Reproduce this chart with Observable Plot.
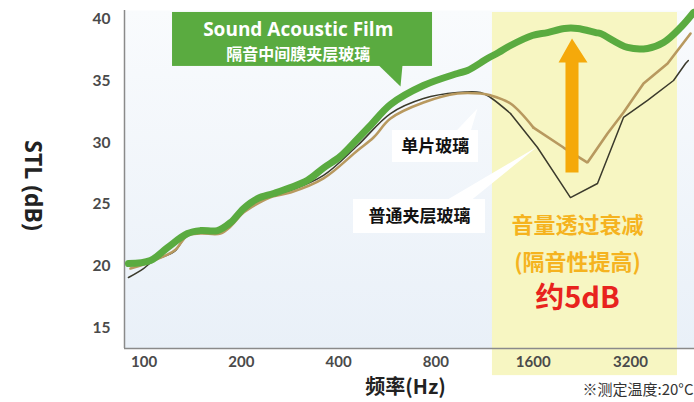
<!DOCTYPE html>
<html>
<head>
<meta charset="utf-8">
<script src="https://cdn.jsdelivr.net/npm/d3@7"></script>
<script src="https://cdn.jsdelivr.net/npm/@observablehq/plot@0.6"></script>
<style>
  html, body { margin: 0; padding: 0; background: #ffffff; }
  #chart svg { display: block; }
</style>
</head>
<body>
<div id="chart"></div>
<script>
// ---- data ----
const filmFreq   = [89.5, 104.7, 118.2, 136.3, 149.6, 168.8, 185.2, 203.1, 224.4, 251.5, 284, 320.5, 359.2, 405.4, 457.6, 502, 579, 732, 933, 1002, 1155, 1250, 1361, 1590, 1772, 2000, 2194, 2500, 2585, 3133, 3614, 4050, 4572, 5016];
const filmSTL    = [20.19, 20.45, 21.49, 22.63, 22.87, 22.87, 23.52, 24.66, 25.47, 25.88, 26.36, 26.95, 27.95, 28.9, 30.3, 31.4, 33.1, 34.64, 35.62, 35.86, 36.83, 37.32, 37.89, 38.7, 38.94, 39.27, 39.27, 38.94, 38.86, 37.73, 37.65, 38.13, 39.35, 40.57];

const singleFreq = [90.8, 99.6, 107, 124.2, 136.3, 149.6, 172.4, 185.2, 203.1, 224.4, 249.7, 284, 359.2, 457.6, 512.9, 578.9, 732.3, 933.1, 1099, 1180, 1361, 1603, 1986, 2356, 2717, 3045, 3512, 4169, 4910];
const singleSTL  = [19.79, 20.11, 20.44, 21.25, 22.47, 22.63, 22.63, 23.2, 24.33, 25.06, 25.63, 25.96, 27.1, 29.37, 30.42, 31.96, 33.26, 33.99, 33.99, 33.85, 33.18, 31.23, 29.61, 28.39, 30.75, 32.45, 34.8, 36.43, 38.86];

const laminFreq  = [89.5, 99.6, 107, 124.2, 136.3, 149.6, 172.4, 185.2, 203.1, 224.4, 249.7, 284, 359.2, 457.6, 578.9, 732.3, 933.1, 1099, 1180, 1361, 1650, 2087, 2530, 3045, 3614, 4350, 4738, 4834];
const laminSTL   = [19.06, 19.79, 20.44, 21.17, 22.55, 22.79, 22.79, 23.36, 24.5, 25.23, 25.71, 26.12, 27.34, 29.77, 32.37, 33.59, 34.07, 34.07, 33.67, 32.37, 29.61, 25.55, 26.69, 32.05, 33.43, 35.05, 36.43, 36.67];

const xTicks = [100, 200, 400, 800, 1600, 3200];
const yTicks = [15, 20, 25, 30, 35, 40];

const seriesNames = ["Sound Acoustic Film", "单片玻璃", "普通夹层玻璃"];
const filmSubtitle = "隔音中间膜夹层玻璃";
const effectLines = ["音量透过衰减", "(隔音性提高)"];
const effectValue = "约5dB";
const xTitle = "频率(Hz)";
const yTitle = "STL (dB)";
const caption = "※测定温度:20°C";

const toRows = (fs, vs) => fs.map((f, i) => ({f, v: vs[i]}));
const film = toRows(filmFreq, filmSTL);
const single = toRows(singleFreq, singleSTL);
const lamin = toRows(laminFreq, laminSTL);

// annotation geometry (data space)
const xMin = 87, xMax = 5050, yMin = 13.3, yMax = 40.73;
const greenBox  = [{x1: 122.5, x2: 781, y1: 36.19, y2: 40.57}];
const greenTail = [{f: 531, v: 36.3}, {f: 630.6, v: 36.3}, {f: 621.7, v: 34.56}];
const singleBox = [{x1: 587, x2: 1084, y1: 28.39, y2: 30.99}];
const singleTail= [{f: 920, v: 30.9}, {f: 1024, v: 30.9}, {f: 1076, v: 32.78}];
const laminBox  = [{x1: 444.7, x2: 1139, y1: 22.63, y2: 25.39}];
const laminTail = [{f: 857, v: 25.3}, {f: 1024, v: 25.3}, {f: 1650, v: 29.69}];
const highlight = [{x1: 1197, x2: 4473, y1: 11.1, y2: 40.57}];
const arrowPoly = [
  {f: 2014, v: 27.58}, {f: 2014, v: 36.51}, {f: 1917, v: 36.51},
  {f: 2110, v: 38.46}, {f: 2356, v: 36.51}, {f: 2210, v: 36.51},
  {f: 2210, v: 27.58}
];

const numFont = "Lato, 'Open Sans', sans-serif";
const cjk = "'Noto Sans CJK SC', 'Noto Sans', sans-serif";

const plot = Plot.plot({
  width: 694,
  height: 402,
  marginLeft: 124,
  marginRight: 0,
  marginTop: 10,
  marginBottom: 54,
  x: {type: "log", domain: [xMin, xMax], axis: null},
  y: {domain: [yMin, yMax], axis: null},
  style: {background: "transparent", overflow: "visible"},
  marks: [
    Plot.frame({fill: "url(#bggrad)", stroke: "none"}),
    Plot.rect(highlight, {x1: "x1", x2: "x2", y1: "y1", y2: "y2", fill: "#f7f6c2"}),
    Plot.ruleX([xMin], {stroke: "#8a8a8a", strokeWidth: 1.5}),
    Plot.ruleY([yMin], {stroke: "#8a8a8a", strokeWidth: 1.5}),
    // tick labels
    Plot.text(xTicks, {x: d => d, y: yMin, dy: 14, text: d => String(d),
      fontSize: 15, fontWeight: "bold", fill: "#4a4a4a", fontFamily: numFont}),
    Plot.text(yTicks, {x: xMin, y: d => d, dx: -14, textAnchor: "end", text: d => String(d),
      fontSize: 15.5, fontWeight: "bold", fill: "#4a4a4a", fontFamily: numFont}),

    // callouts
    Plot.rect(greenBox, {x1: "x1", x2: "x2", y1: "y1", y2: "y2", fill: "#5aab40", ariaLabel: "callout"}),
    Plot.line(greenTail, {x: "f", y: "v", fill: "#5aab40", stroke: "none", curve: "linear-closed"}),
    Plot.rect(singleBox, {x1: "x1", x2: "x2", y1: "y1", y2: "y2", fill: "#ffffff", ariaLabel: "callout"}),
    Plot.line(singleTail, {x: "f", y: "v", fill: "#ffffff", stroke: "none", curve: "linear-closed"}),
    Plot.rect(laminBox, {x1: "x1", x2: "x2", y1: "y1", y2: "y2", fill: "#ffffff", ariaLabel: "callout"}),
    Plot.line(laminTail, {x: "f", y: "v", fill: "#ffffff", stroke: "none", curve: "linear-closed"}),

    // series: smooth at low frequency, angular through the coincidence dip
    Plot.line(lamin.filter(d => d.f <= 1361), {x: "f", y: "v", stroke: "#3b3a2c", strokeWidth: 1.5, curve: "catmull-rom"}),
    Plot.line(lamin.filter(d => d.f >= 1361), {x: "f", y: "v", stroke: "#3b3a2c", strokeWidth: 1.5, curve: "linear"}),
    Plot.line(single.filter(d => d.f <= 1603), {x: "f", y: "v", stroke: "#b8995f", strokeWidth: 2.6, curve: "catmull-rom"}),
    Plot.line(single.filter(d => d.f >= 1603), {x: "f", y: "v", stroke: "#b8995f", strokeWidth: 2.6, curve: "linear", strokeLinejoin: "miter"}),
    Plot.line(film, {x: "f", y: "v", stroke: "#5aab40", strokeWidth: 7, curve: "catmull-rom", strokeLinecap: "round"}),

    // arrow
    Plot.line(arrowPoly, {x: "f", y: "v", fill: "#f5a90a", stroke: "none", curve: "linear-closed"}),

    // callout texts
    Plot.text([seriesNames[0]], {x: 300, y: 39.19, text: d => d, fill: "white", fontSize: 19, fontWeight: "bold", fontFamily: "'Open Sans', sans-serif"}),
    Plot.text([filmSubtitle], {x: 300, y: 37.12, text: d => d, fill: "white", fontSize: 16, fontWeight: "bold", fontFamily: cjk}),
    Plot.text([seriesNames[1]], {x: 797, y: 29.69, text: d => d, fill: "#111", fontSize: 17, fontWeight: "bold", fontFamily: cjk}),
    Plot.text([seriesNames[2]], {x: 712, y: 24.01, text: d => d, fill: "#111", fontSize: 17, fontWeight: "bold", fontFamily: cjk}),

    // effect texts
    Plot.text([effectLines[0]], {x: 2194, y: 23.28, text: d => d, fill: "#f5b31f", fontSize: 22, fontWeight: "bold", fontFamily: cjk}),
    Plot.text([effectLines[1]], {x: 2194, y: 20.28, text: d => d, fill: "#f5b31f", fontSize: 22, fontWeight: "bold", fontFamily: cjk}),
    Plot.text([effectValue], {x: 2194, y: 17.35, text: d => d, fill: "#e8231d", fontSize: 29, fontWeight: "bold", fontFamily: cjk}),

    // titles
    Plot.text([xTitle], {frameAnchor: "bottom", lineAnchor: "middle", dx: -4, dy: 39, text: d => d, fill: "#222", fontSize: 20, fontWeight: "bold", fontFamily: cjk}),
    Plot.text([yTitle], {frameAnchor: "left", textAnchor: "middle", dx: -92, dy: 6, rotate: 90, text: d => d, fill: "#222", fontSize: 23, fontWeight: "bold", fontFamily: "'Open Sans', sans-serif"}),
    Plot.text([caption], {frameAnchor: "bottom-right", lineAnchor: "middle", dx: -1, dy: 42, textAnchor: "end", text: d => d, fill: "#333", fontSize: 15, fontFamily: cjk})
  ]
});

// gradient + shadow defs
const svg = d3.select(plot);
const defs = svg.insert("defs", ":first-child");
const g = defs.append("linearGradient").attr("id", "bggrad").attr("x1", 0).attr("y1", 0).attr("x2", 0).attr("y2", 1);
g.append("stop").attr("offset", "0%").attr("stop-color", "#f9fbfd");
g.append("stop").attr("offset", "100%").attr("stop-color", "#e9f0f8");
const f = defs.append("filter").attr("id", "shadow").attr("x", "-20%").attr("y", "-30%").attr("width", "150%").attr("height", "170%");
f.append("feDropShadow").attr("dx", 2).attr("dy", 3).attr("stdDeviation", 2.5).attr("flood-color", "#000").attr("flood-opacity", 0.3);
svg.selectAll('[aria-label="callout"]').attr("filter", "url(#shadow)");

document.getElementById("chart").appendChild(plot);
</script>
</body>
</html>
